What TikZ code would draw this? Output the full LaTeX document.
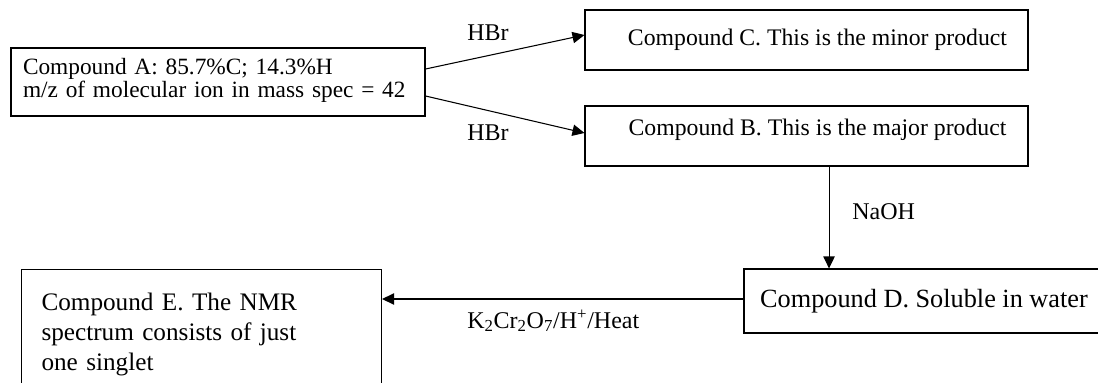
\documentclass[tikz,border=0pt]{standalone}
\usepackage{fontspec}
\setmainfont{Liberation Serif}
\usetikzlibrary{arrows.meta}
\begin{document}
\begin{tikzpicture}[x=0.75pt,y=-0.75pt,
  box/.style={draw, line width=0.8pt},
  arr/.style={line width=0.8pt, -{Triangle[length=9pt,width=8.5pt]}},
  lbl/.style={font=\fontsize{18}{21}\selectfont, inner sep=0pt}]
\useasboundingbox (0,0) rectangle (1098,382);
\node[box, minimum width=310.5pt, minimum height=51pt, text width=292.5pt, inner xsep=9pt, inner ysep=2pt, align=left,
  font=\fontsize{17.5}{15.5}\selectfont] (A) at (218,82)
  {Compound A: 85.7\%C; 14.3\%H\\m/z of molecular ion in mass spec = 42\rule[-6pt]{0pt}{0pt}};
\node[box, minimum width=332.25pt, minimum height=45pt, font=\fontsize{17.8}{21}\selectfont] (C) at (806.5,40)
  {\hspace*{16.5pt}Compound C. This is the minor product};
\node[box, minimum width=332.25pt, minimum height=45pt, font=\fontsize{17.8}{21}\selectfont] (B) at (806.5,136)
  {\hspace*{16.5pt}Compound B. This is the major product\rule[-12.9pt]{0pt}{0pt}};
\node[box, minimum width=270pt, minimum height=48pt, font=\fontsize{19.7}{23}\selectfont] (D) at (924,301)
  {Compound D. Soluble in water};
\node[box, anchor=north west, minimum width=270pt, text width=240pt, align=left, inner xsep=13.5pt, inner ysep=17.7pt,
  font=\fontsize{18.9}{22.5}\selectfont] (E) at (21,269)
  {Compound E. The NMR\\spectrum consists of just\\one singlet};
\node[lbl] (h1) at (488,33) {HBr};
\node[lbl] (h2) at (488,133) {HBr};
\node[lbl, anchor=west] (naoh) at (852,212) {NaOH};
\node[lbl, anchor=west] (k) at (467,321) {K\textsubscript{2}Cr\textsubscript{2}O\textsubscript{7}/H\textsuperscript{+}/Heat};
\draw[arr] ([yshift=9.75pt]A.east) -- ([yshift=3.75pt]C.west);
\draw[arr] ([yshift=-10.5pt]A.east) -- ([yshift=2.25pt]B.west);
\draw[arr] ([xshift=16.9pt]B.south) -- ([xshift=16.9pt]B.south |- D.north);
\draw[arr] ([yshift=1.5pt]D.west) -- ([yshift=1.5pt]D.west -| E.east);
\end{tikzpicture}
\end{document}
